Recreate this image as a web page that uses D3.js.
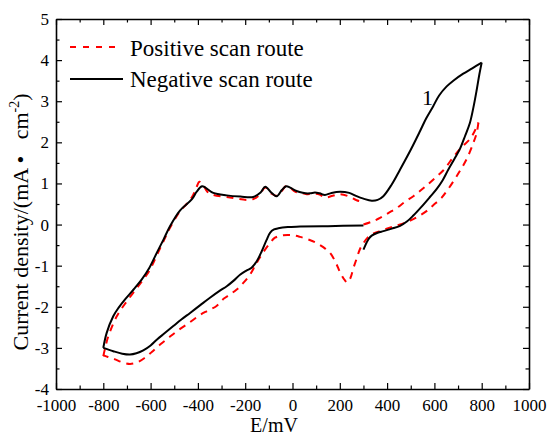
<!DOCTYPE html>
<html>
<head>
<meta charset="utf-8">
<script src="https://cdn.jsdelivr.net/npm/d3@7"></script>
<style>
  body { margin: 0; background: #fff; }
  svg text { font-family: "Liberation Serif", "Times New Roman", serif; }
</style>
</head>
<body>
<div id="chart"></div>
<script>
// tick values
var xTicks = d3.range(-1000, 1001, 200);
var yTicks = d3.range(-4, 6, 1);

// negative scan route (black), in branches
var negLowerRight = [[300,-0.61],[307,-0.52],[314,-0.43],[323,-0.34],[335,-0.27],[360,-0.2],[384,-0.16],
  [420,-0.1],[455,-0.03],[485,0.08],[511,0.22],[545,0.43],[581,0.67],[610,0.87],[635,1.08],[659,1.34],
  [685,1.6],[708,1.84],[730,2.16],[750,2.47],[765,2.85],[779,3.28],[790,3.65],[800,3.94]];
var negUpper = [[800,3.94],[760,3.8],[722,3.67],[680,3.5],[652,3.36],[620,3.14],[595,2.88],[565,2.58],
  [539,2.27],[500,1.82],[455,1.34],[419,0.97],[384,0.69],[360,0.6],[335,0.58],[300,0.63],[271,0.69],
  [240,0.77],[201,0.8],[165,0.77],[137,0.72],[115,0.76],[95,0.78],[75,0.76],[55,0.76],[30,0.79],
  [11,0.83],[-10,0.9],[-27,0.93],[-45,0.84],[-67,0.69],[-90,0.78],[-115,0.92],[-135,0.78],[-166,0.67],
  [-220,0.68],[-278,0.71],[-335,0.77],[-382,0.93],[-405,0.8],[-426,0.61],[-476,0.34],[-518,-0.04],
  [-545,-0.36],[-574,-0.69],[-605,-1.05],[-638,-1.34],[-672,-1.58],[-708,-1.82],[-735,-2.02],
  [-758,-2.23],[-786,-2.64],[-800,-3.0]];
var negLowerLeft = [[-800,-3.0],[-758,-3.08],[-720,-3.14],[-687,-3.16],[-660,-3.13],[-631,-3.06],
  [-600,-2.94],[-574,-2.8],[-540,-2.64],[-504,-2.47],[-470,-2.31],[-433,-2.15],[-390,-1.96],
  [-349,-1.78],[-310,-1.62],[-278,-1.5],[-250,-1.37],[-222,-1.22],[-195,-1.12],[-173,-1.05],
  [-150,-0.88],[-130,-0.65],[-110,-0.38],[-95,-0.2],[-78,-0.12],[-60,-0.09],[-20,-0.06],[32,-0.05],
  [150,-0.04],[300,-0.02]];

// positive scan route (red dashed)
var posUpper = [[-800,-3.2],[-790,-2.95],[-779,-2.72],[-743,-2.23],[-701,-1.87],[-652,-1.5],
  [-605,-1.12],[-574,-0.75],[-545,-0.4],[-518,-0.08],[-476,0.32],[-440,0.55],[-420,0.72],
  [-405,0.92],[-394,1.04],[-380,0.98],[-360,0.8],[-335,0.72],[-264,0.66],[-194,0.6],[-166,0.62],
  [-140,0.72],[-115,0.9],[-90,0.76],[-67,0.7],[-45,0.82],[-27,0.94],[-10,0.9],[11,0.8],[35,0.77],
  [60,0.74],[95,0.75],[115,0.73],[137,0.66],[170,0.7],[201,0.74],[240,0.68],[271,0.59],[300,0.55]];
var posMiddle = [[300,0.0],[340,0.08],[370,0.16],[405,0.28],[440,0.4],[475,0.55],[511,0.69],
  [540,0.82],[567,0.95],[600,1.12],[638,1.32],[680,1.64],[715,1.88],[750,2.08],[770,2.27],[786,2.48]];
var posLower = [[786,2.48],[779,2.23],[765,1.99],[737,1.6],[701,1.24],[659,0.87],[630,0.65],
  [595,0.47],[565,0.32],[532,0.2],[500,0.1],[469,0.03],[430,-0.04],[398,-0.1],[360,-0.18],
  [328,-0.26],[300,-0.45],[285,-0.6],[270,-0.85],[257,-1.07],[245,-1.3],[232,-1.41],[222,-1.36],
  [201,-1.16],[185,-0.95],[159,-0.69],[130,-0.55],[102,-0.45],[70,-0.37],[32,-0.3],[0,-0.26],
  [-39,-0.26],[-74,-0.32],[-95,-0.45],[-116,-0.61],[-140,-0.82],[-159,-1.01],[-180,-1.22],
  [-208,-1.42],[-236,-1.58],[-264,-1.7],[-290,-1.8],[-321,-1.98],[-360,-2.1],[-391,-2.2],
  [-440,-2.4],[-490,-2.6],[-525,-2.76],[-560,-2.92],[-595,-3.1],[-624,-3.24],[-655,-3.35],
  [-687,-3.39],[-720,-3.35],[-750,-3.28],[-780,-3.22],[-800,-3.18]];

var serif = "Liberation Serif, Times New Roman, serif";

var margin = {top: 19, right: 19, bottom: 43, left: 56},
    width = 548 - margin.left - margin.right,
    height = 432 - margin.top - margin.bottom;

var svg = d3.select("#chart")
  .append("svg")
    .attr("width", 548)
    .attr("height", 432)
  .append("g")
    .attr("transform", "translate(" + margin.left + "," + margin.top + ")");

var x = d3.scaleLinear().domain([-1000, 1000]).range([0, width]);
var y = d3.scaleLinear().domain([-4, 5]).range([height, 0]);

// plain labels, hyphen minus, no thousands comma
var plain = function(d) { return String(d); };

// minor ticks
var xMinor = d3.range(-900, 1000, 200);
var yMinor = d3.range(-3.5, 5, 1);
function minor(g) { g.select(".domain").remove(); g.selectAll("line").attr("stroke-width", 1.2); }
svg.append("g").attr("transform", "translate(0," + height + ")")
  .call(d3.axisBottom(x).tickValues(xMinor).tickSize(-3.5).tickFormat("")).call(minor);
svg.append("g")
  .call(d3.axisTop(x).tickValues(xMinor).tickSize(-3.5).tickFormat("")).call(minor);
svg.append("g")
  .call(d3.axisLeft(y).tickValues(yMinor).tickSize(-3.5).tickFormat("")).call(minor);
svg.append("g").attr("transform", "translate(" + width + ",0)")
  .call(d3.axisRight(y).tickValues(yMinor).tickSize(-3.5).tickFormat("")).call(minor);

// major axes
function major(g) {
  g.attr("font-family", null).attr("font-size", null);
  g.select(".domain").attr("stroke-width", 1.6);
  g.selectAll("line").attr("stroke-width", 1.2);
  g.selectAll("text")
    .style("font-family", serif)
    .style("font-size", "17px")
    .attr("fill", "#000");
}
svg.append("g").attr("transform", "translate(0," + height + ")")
  .call(d3.axisBottom(x).tickValues(xTicks).tickFormat(plain).tickSizeInner(-6).tickSizeOuter(0).tickPadding(10)).call(major);
svg.append("g")
  .call(d3.axisTop(x).tickValues(xTicks).tickSizeInner(-6).tickSizeOuter(0).tickFormat("")).call(major);
svg.append("g")
  .call(d3.axisLeft(y).tickValues(yTicks).tickFormat(plain).tickSizeInner(-6).tickSizeOuter(0).tickPadding(7)).call(major);
svg.append("g").attr("transform", "translate(" + width + ",0)")
  .call(d3.axisRight(y).tickValues(yTicks).tickSizeInner(-6).tickSizeOuter(0).tickFormat("")).call(major);

// curves
var line = d3.line()
  .x(function(d) { return x(d[0]); })
  .y(function(d) { return y(d[1]); })
  .curve(d3.curveCatmullRom.alpha(0.5));

[posUpper, posMiddle, posLower].forEach(function(seg) {
  svg.append("path")
    .datum(seg)
    .attr("fill", "none")
    .attr("stroke", "#ff0000")
    .attr("stroke-width", 2)
    .attr("stroke-dasharray", "7,6")
    .attr("d", line);
});
[negLowerRight, negUpper, negLowerLeft].forEach(function(seg) {
  svg.append("path")
    .datum(seg)
    .attr("fill", "none")
    .attr("stroke", "#000")
    .attr("stroke-width", 2)
    .attr("d", line);
});

// legend
svg.append("line")
  .attr("x1", 14).attr("x2", 66).attr("y1", 28).attr("y2", 28)
  .attr("stroke", "#ff0000").attr("stroke-width", 2).attr("stroke-dasharray", "6,7");
svg.append("text").attr("x", 74).attr("y", 37).text("Positive scan route").style("font-size", "23px");
svg.append("line")
  .attr("x1", 14).attr("x2", 67).attr("y1", 60).attr("y2", 60)
  .attr("stroke", "#000").attr("stroke-width", 2);
svg.append("text").attr("x", 74).attr("y", 68).text("Negative scan route").style("font-size", "23px");

// curve label
svg.append("text").attr("x", 366).attr("y", 86).text("1").style("font-size", "22px");

// axis labels
svg.append("text")
  .attr("text-anchor", "middle")
  .attr("x", 274 - margin.left)
  .attr("y", 432 - margin.top)
  .text("E/mV")
  .style("font-size", "20px");

var yl = svg.append("text")
  .attr("text-anchor", "middle")
  .attr("transform", "translate(" + (28 - margin.left) + "," + (222 - margin.top) + ")rotate(-90)")
  .style("font-size", "22px")
  .attr("xml:space", "preserve");
yl.append("tspan").text("Current density/(mA \u2022   cm");
yl.append("tspan").attr("dy", -9).style("font-size", "14px").text("-2");
yl.append("tspan").attr("dy", 9).text(")");
</script>
</body>
</html>
